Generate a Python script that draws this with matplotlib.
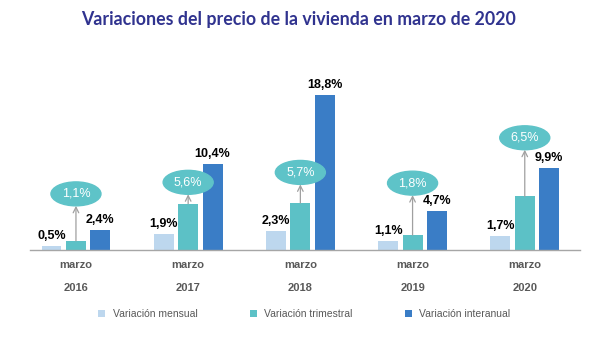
import numpy as np
import matplotlib
matplotlib.use('Agg')
import matplotlib.pyplot as plt
from matplotlib.patches import Ellipse

# Datos del gráfico
years = ['2016', '2017', '2018', '2019', '2020']
mensual = [0.5, 1.9, 2.3, 1.1, 1.7]
trimestral = [1.1, 5.6, 5.7, 1.8, 6.5]
interanual = [2.4, 10.4, 18.8, 4.7, 9.9]
series_names = ['Variación mensual', 'Variación trimestral', 'Variación interanual']

# altura de las burbujas (solo posición)
bubble_y = [6.8, 8.2, 9.4, 8.1, 13.6]

c_mens = '#bdd7ee'
c_trim = '#5cc1c6'
c_inter = '#3a7dc6'
c_bubble = '#5ec3c8'

fig = plt.figure(figsize=(6.06, 3.46), dpi=100)
ax = fig.add_axes([0, 0, 1, 1])
ax.set_xlim(-0.677, 4.724)
ax.set_ylim(-11.64, 30.3)
ax.axis('off')

x = np.arange(len(years))
w = 0.178
off = 0.218

b1 = ax.bar(x - off, mensual, w, color=c_mens, label=series_names[0])
b2 = ax.bar(x, trimestral, w, color=c_trim, label=series_names[1])
b3 = ax.bar(x + off, interanual, w, color=c_inter, label=series_names[2])

ax.plot([-0.41, 4.49], [0, 0], color='#a6a6a6', lw=1)

def fmt(v):
    return f'{v:.1f}%'.replace('.', ',')

lab_font = dict(family='Liberation Sans', fontsize=9, fontweight='bold', color='black')
for i in range(len(years)):
    ax.annotate(fmt(mensual[i]), (x[i] - off, mensual[i]), xytext=(0, 3),
                textcoords='offset points', ha='center', va='bottom', **lab_font)
    ax.annotate(fmt(interanual[i]), (x[i] + off, interanual[i]), xytext=(0, 3),
                textcoords='offset points', ha='center', va='bottom', **lab_font)
    # burbuja trimestral con flecha
    eh = 2.9
    ax.add_patch(Ellipse((x[i], bubble_y[i]), 0.446, eh, color=c_bubble, zorder=4))
    ax.text(x[i], bubble_y[i], fmt(trimestral[i]), ha='center', va='center',
            color='white', fontsize=9, family='Liberation Sans', zorder=5)
    ax.annotate('', xy=(x[i], bubble_y[i] - eh / 2), xytext=(x[i], trimestral[i]),
                arrowprops=dict(arrowstyle='->', color='#a0a0a0', lw=0.9,
                                shrinkA=0, shrinkB=0, mutation_scale=10))
    ax.text(x[i], -1.85, 'marzo', ha='center', va='center', color='#595959',
            family='Liberation Sans', fontsize=8, fontweight='bold')
    ax.text(x[i], -4.65, years[i], ha='center', va='center', color='#595959',
            family='Liberation Sans', fontsize=8, fontweight='bold')

fig.text(0.493, 1 - 20 / 346, 'Variaciones del precio de la vivienda en marzo de 2020',
         ha='center', va='center', color='#30338f', fontsize=12.8,
         fontweight='bold', family='Lato')

leg = ax.legend(handles=[b1, b2, b3], loc='center', bbox_to_anchor=(0.502, 1 - 314 / 346),
                ncol=3, frameon=False, handlelength=0.7, handleheight=0.7,
                handletextpad=0.7, columnspacing=5.0,
                prop=dict(family='Liberation Sans', size=7.5))
for t in leg.get_texts():
    t.set_color('#595959')

fig.savefig('out.png', dpi=100)
